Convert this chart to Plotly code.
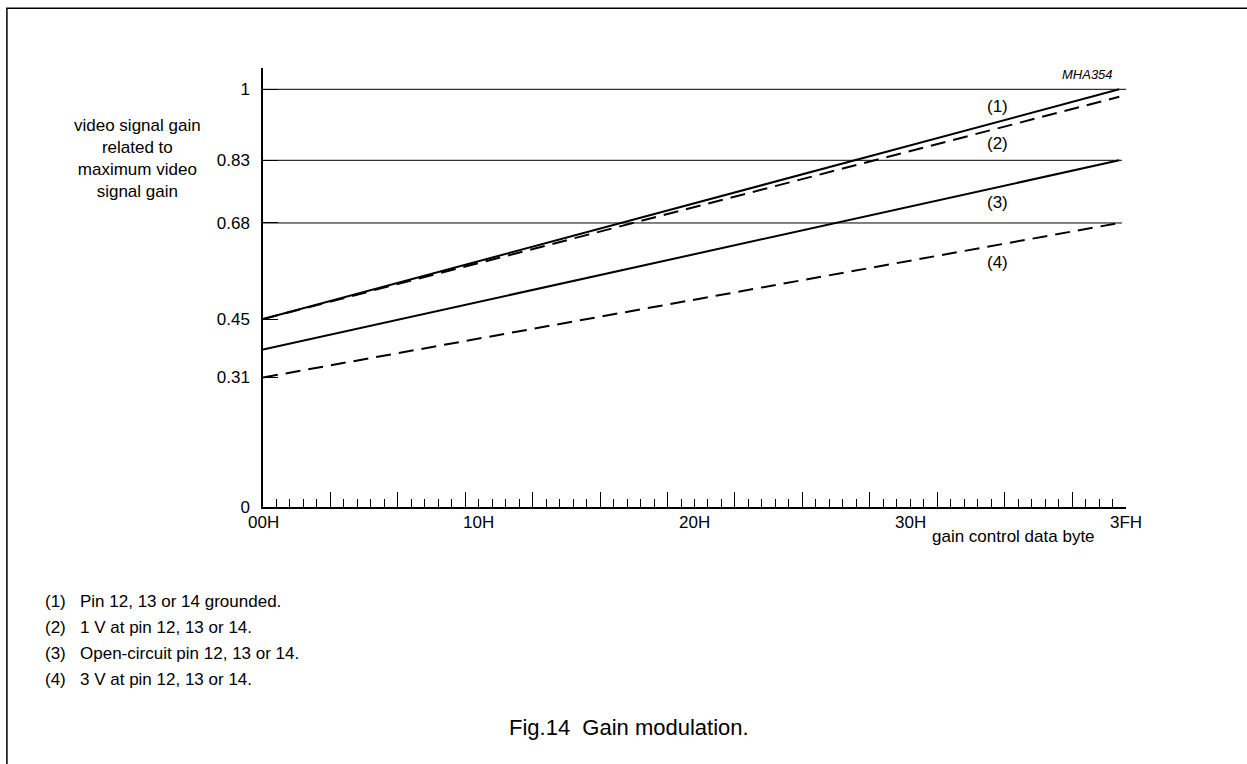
import plotly.graph_objects as go

# ---------------- data ----------------
x_codes = [0, 63.5]                      # gain control data byte (decimal position)
curve1 = [0.45, 1.0]                     # (1) pin grounded
curve2 = [0.45, 0.982]                   # (2) 1 V at pin
curve3 = [0.377, 0.83]                   # (3) open-circuit pin
curve4 = [0.31, 0.68]                    # (4) 3 V at pin
curve_names = ["(1)", "(2)", "(3)", "(4)"]
curve_label_x = [54.5, 54.5, 54.5, 54.5]
curve_label_y = [0.96, 0.87, 0.73, 0.585]

y_ticks = [0, 0.31, 0.45, 0.68, 0.83, 1]
y_ticktext = ["0", "0.31", "0.45", "0.68", "0.83", "1"]
grid_levels = [1, 0.83, 0.68]

x_label_vals = [0, 16, 32, 48, 64]
x_label_text = ["00H", "10H", "20H", "30H", "3FH"]
major_tick_vals = list(range(5, 64, 5))
minor_tick_vals = [v for v in range(1, 64) if v % 5 != 0]

notes = [
    ("(1)", "Pin 12, 13 or 14 grounded."),
    ("(2)", "1 V at pin 12, 13 or 14."),
    ("(3)", "Open-circuit pin 12, 13 or 14."),
    ("(4)", "3 V at pin 12, 13 or 14."),
]

# ---------------- layout geometry (pixels) ----------------
W, H = 1247, 764
PL, PR = 263.3, 1126.0     # plot area left / right
PT, PB = 68.0, 506.7       # plot area top / bottom
FONT = "Liberation Sans, Arial, sans-serif"


def px(xp):
    return (xp - PL) / (PR - PL)


def py(yp):
    return (PB - yp) / (PB - PT)


fig = go.Figure()

styles = [
    dict(color="black", width=2),
    dict(color="black", width=2, dash="15px,8px"),
    dict(color="black", width=2),
    dict(color="black", width=2, dash="15px,8px"),
]
for ys, st, nm in zip([curve1, curve2, curve3, curve4], styles, curve_names):
    fig.add_trace(go.Scatter(x=x_codes, y=ys, mode="lines", line=st,
                             name=nm, showlegend=False, hoverinfo="skip"))

shapes = []
for g in grid_levels:
    shapes.append(dict(type="line", xref="x", yref="y", x0=0, x1=64 if g == 1 else 63.7,
                       y0=g, y1=g, line=dict(color="black", width=1)))
# outer frame (right/bottom edges lie outside the page)
shapes.append(dict(type="rect", xref="paper", yref="paper",
                   x0=px(7.3), x1=px(1265), y0=py(785), y1=py(8.3),
                   line=dict(color="black", width=1.5), layer="below"))

annotations = []
# curve labels
for nm, lx, ly in zip(curve_names, curve_label_x, curve_label_y):
    annotations.append(dict(x=lx, y=ly, xref="x", yref="y", text=nm, showarrow=False,
                            font=dict(size=17, color="black", family=FONT)))
# x labels
for v, t in zip(x_label_vals, x_label_text):
    annotations.append(dict(x=v, y=0, xref="x", yref="y", text=t, showarrow=False,
                            yanchor="middle", yshift=-15.5,
                            font=dict(size=17, color="black", family=FONT)))
annotations.append(dict(x=px(1097), y=py(536), xref="paper", yref="paper",
                        text="gain control data byte", showarrow=False,
                        xanchor="right", yanchor="middle",
                        font=dict(size=17, color="black", family=FONT)))
# y title
annotations.append(dict(x=px(138), y=py(158), xref="paper", yref="paper",
                        text="video signal gain<br>related to<br>maximum video<br>signal gain",
                        showarrow=False, align="center", xanchor="center", yanchor="middle",
                        font=dict(size=17, color="black", family=FONT)))
# code
annotations.append(dict(x=px(1115), y=py(74.5), xref="paper", yref="paper",
                        text="<i>MHA354</i>", showarrow=False, xanchor="right", yanchor="middle",
                        font=dict(size=13, color="black", family=FONT)))
# notes
note_y = [600.7, 626.7, 653, 679]
for (tag, txt), yy in zip(notes, note_y):
    annotations.append(dict(x=px(43), y=py(yy), xref="paper", yref="paper", text=tag,
                            showarrow=False, xanchor="left", yanchor="middle",
                            font=dict(size=17, color="black", family=FONT)))
    annotations.append(dict(x=px(78), y=py(yy), xref="paper", yref="paper", text=txt,
                            showarrow=False, xanchor="left", yanchor="middle",
                            font=dict(size=17, color="black", family=FONT)))
# caption
annotations.append(dict(x=px(629), y=py(727), xref="paper", yref="paper",
                        text="Fig.14\u00a0\u00a0Gain modulation.", showarrow=False,
                        xanchor="center", yanchor="middle",
                        font=dict(size=22, color="black", family=FONT)))

fig.update_layout(
    width=W, height=H, autosize=False,
    margin=dict(l=PL, r=W - PR, t=PT, b=H - PB, pad=0),
    paper_bgcolor="white", plot_bgcolor="white",
    font=dict(family=FONT, size=17, color="black"),
    shapes=shapes, annotations=annotations,
    xaxis=dict(range=[0, 64], showgrid=False, zeroline=False,
               showline=True, linecolor="black", linewidth=1.5,
               tickmode="array", tickvals=major_tick_vals, ticks="inside",
               ticklen=15, tickwidth=1, tickcolor="black", showticklabels=False,
               minor=dict(tickmode="array", tickvals=minor_tick_vals, ticks="inside",
                          ticklen=8, tickwidth=1, tickcolor="black", showgrid=False)),
    yaxis=dict(range=[0, 1.051], showgrid=False, zeroline=False,
               showline=True, linecolor="black", linewidth=1.5,
               tickmode="array", tickvals=y_ticks, ticktext=y_ticktext,
               ticks="inside", ticklen=15, tickwidth=1, tickcolor="black",
               ticklabelstandoff=8,
               tickfont=dict(size=17, color="black", family=FONT)),
)

fig.write_html("out.html")
